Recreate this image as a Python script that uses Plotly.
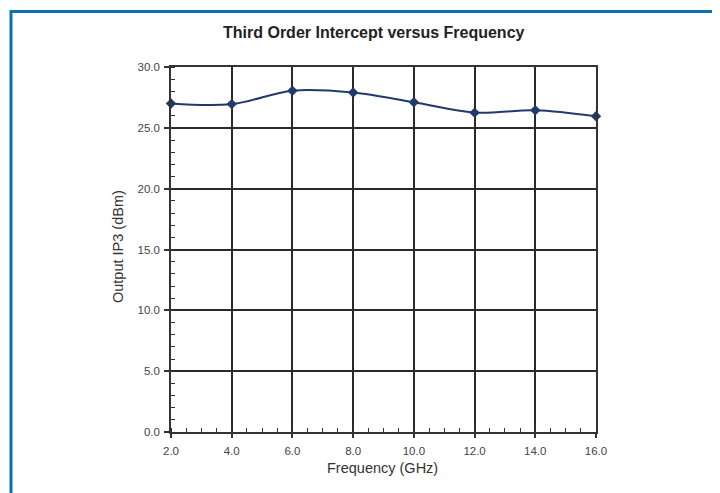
import plotly.graph_objects as go

freq_ghz = [2.0, 4.0, 6.0, 8.0, 10.0, 12.0, 14.0, 16.0]
oip3_dbm = [27.0, 26.95, 28.05, 27.9, 27.1, 26.25, 26.45, 25.95]
x_ticks = [2, 4, 6, 8, 10, 12, 14, 16]
x_tick_labels = ["2.0", "4.0", "6.0", "8.0", "10.0", "12.0", "14.0", "16.0"]
y_ticks = [0, 5, 10, 15, 20, 25, 30]
y_tick_labels = ["0.0", "5.0", "10.0", "15.0", "20.0", "25.0", "30.0"]

W, H = 720, 493
OFF = 8  # page body margin in the browser
L, R, T, B = 171 - OFF, 132, 67 - OFF, 69
pw, ph = W - L - R, H - T - B

def px(xs):
    return (xs - OFF - L) / pw

def py(ys):
    return (H - B - (ys - OFF)) / ph

fig = go.Figure()
fig.add_trace(go.Scatter(
    x=freq_ghz, y=oip3_dbm, mode="lines+markers",
    line=dict(color="#1f3a6b", width=2, shape="spline", smoothing=1.0),
    marker=dict(symbol="diamond", size=8, color="#1f3a6b"),
    showlegend=False, cliponaxis=False,
))

axis_font = dict(family="Liberation Sans, Arial, sans-serif", size=11.5, color="#444")

fig.update_layout(
    width=W, height=H,
    margin=dict(l=L, r=R, t=T, b=B, pad=0),
    paper_bgcolor="white", plot_bgcolor="white",
    font=dict(family="Liberation Sans, Arial, sans-serif", color="#333"),
    xaxis=dict(
        range=[2, 16], tickvals=x_ticks, ticktext=x_tick_labels,
        tickfont=axis_font, showgrid=True, gridcolor="#2a2a2a", gridwidth=1.6,
        showline=True, linecolor="#333", linewidth=1.6, mirror=True,
        ticks="outside", ticklen=4, tickcolor="#333", tickwidth=1.5,
        ticklabelstandoff=3,
        minor=dict(dtick=0.5, ticks="inside", ticklen=4, tickcolor="#333", tickwidth=1.3, showgrid=False),
        zeroline=False, fixedrange=True,
    ),
    yaxis=dict(
        range=[0, 30], tickvals=y_ticks, ticktext=y_tick_labels,
        tickfont=axis_font, showgrid=True, gridcolor="#2a2a2a", gridwidth=1.6,
        showline=True, linecolor="#333", linewidth=1.6, mirror=True,
        ticks="outside", ticklen=5, tickcolor="#333", tickwidth=1.5,
        ticklabelstandoff=2,
        minor=dict(dtick=1, ticks="inside", ticklen=4, tickcolor="#333", tickwidth=1.3, showgrid=False),
        zeroline=False, fixedrange=True,
    ),
    annotations=[
        dict(text="<b>Third Order Intercept versus Frequency</b>",
             xref="paper", yref="paper", x=px(374), y=py(33),
             xanchor="center", yanchor="middle", showarrow=False,
             font=dict(size=16, color="#222")),
        dict(text="Frequency (GHz)",
             xref="paper", yref="paper", x=px(382), y=py(468),
             xanchor="center", yanchor="middle", showarrow=False,
             font=dict(size=14.5, color="#333")),
        dict(text="Output IP3 (dBm)", textangle=-90,
             xref="paper", yref="paper", x=px(118), y=py(247),
             xanchor="center", yanchor="middle", showarrow=False,
             font=dict(size=14.5, color="#333")),
    ],
    shapes=[
        dict(type="line", xref="paper", yref="paper", x0=px(11), x1=px(W + 20),
             y0=py(11.5), y1=py(11.5), line=dict(color="#0a6fb3", width=3)),
        dict(type="line", xref="paper", yref="paper", x0=px(11), x1=px(11),
             y0=py(10), y1=py(H + 20), line=dict(color="#0a6fb3", width=3)),
    ],
)

fig.write_html("out.html")
